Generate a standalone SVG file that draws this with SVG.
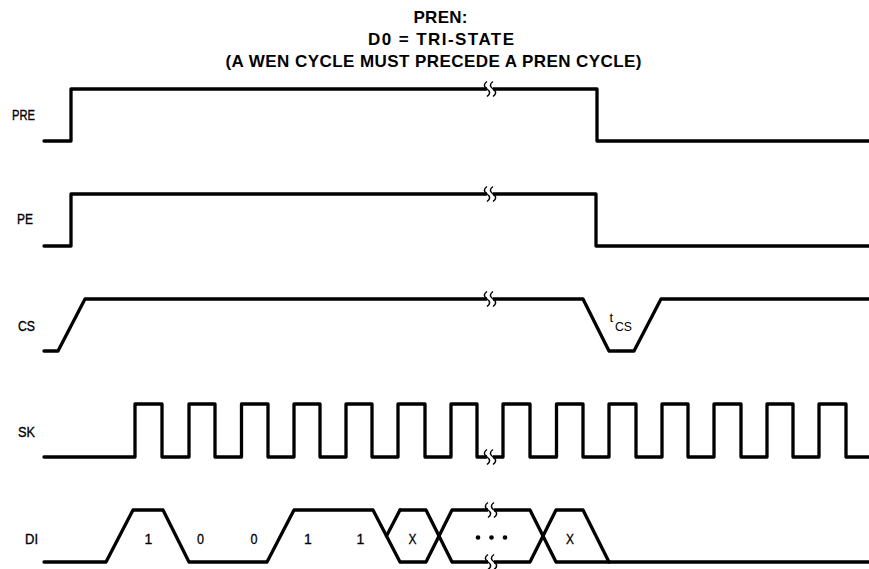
<svg xmlns="http://www.w3.org/2000/svg" width="869" height="569" viewBox="0 0 869 569">
<style>
.w{fill:none;stroke:#000;stroke-width:3.3;stroke-linejoin:round;stroke-linecap:round}
.t{font-family:"Liberation Sans",Arial,sans-serif;font-weight:bold;font-size:17px;fill:#000;text-anchor:middle}
.l{font-family:"Liberation Sans",Arial,sans-serif;font-size:14px;fill:#000;stroke:#000;stroke-width:0.35}
.d{font-family:"Liberation Sans",Arial,sans-serif;font-size:14px;fill:#000;stroke:#000;stroke-width:0.3;text-anchor:middle}
.s{font-family:"Liberation Sans",Arial,sans-serif;font-size:13px;fill:#000}
.bk{fill:none;stroke:#000;stroke-width:1.5}
</style>
<defs>
<g id="brk">
<rect x="-3" y="-3" width="6" height="6" fill="#fff"/>
<path class="bk" d="M-3,-7.5 c-3.5,2.5 -3.5,5 0,7.5 c3.5,2.5 3.5,5 0,7.5"/>
<path class="bk" d="M3,-7.5 c-3.5,2.5 -3.5,5 0,7.5 c3.5,2.5 3.5,5 0,7.5"/>
</g>
</defs>
<rect width="869" height="569" fill="#fff"/>
<g id="title">
<text class="t" x="440.5" y="23" textLength="54">PREN:</text>
<text class="t" x="441" y="45" textLength="146">D0 = TRI-STATE</text>
<text class="t" x="433.5" y="66.5" textLength="416">(A WEN CYCLE MUST PRECEDE A PREN CYCLE)</text>
</g>
<g id="PRE">
<text class="l" x="12" y="119.5" textLength="23" lengthAdjust="spacingAndGlyphs">PRE</text>
<polyline class="w" points="44,141 71,141 71,89 597,89 597,141 869,141"/>
<use href="#brk" x="490" y="89"/>
</g>
<g id="PE">
<text class="l" x="17" y="223.5" textLength="16" lengthAdjust="spacingAndGlyphs">PE</text>
<polyline class="w" points="44,246 71,246 71,194 596,194 596,246 869,246"/>
<use href="#brk" x="490" y="194"/>
</g>
<g id="CS">
<text class="l" x="18" y="330.5" textLength="17" lengthAdjust="spacingAndGlyphs">CS</text>
<polyline class="w" points="44,351 58,351 85,299 583,299 609,351 634,351 661,299 869,299"/>
<use href="#brk" x="490" y="299"/>
<text class="s" x="609.5" y="322">t</text>
<text class="s" x="615" y="331" textLength="17" lengthAdjust="spacingAndGlyphs">CS</text>
</g>
<g id="SK">
<text class="l" x="18" y="436.5" textLength="17" lengthAdjust="spacingAndGlyphs">SK</text>
<polyline class="w" points="44,457 135,457 135,404 162,404 162,457 189,457 189,404 215,404 215,457 241.5,457 241.5,404 268,404 268,457 294,457 294,404 320,404 320,457 346,457 346,404 372,404 372,457 398,457 398,404 425,404 425,457 451,457 451,404 477,404 477,457 503,457 503,404 530,404 530,457 556.5,457 556.5,404 583,404 583,457 609,457 609,404 636,404 636,457 662,457 662,404 688,404 688,457 714,457 714,404 741,404 741,457 767,457 767,404 793,404 793,457 819,457 819,404 846,404 846,457 869,457"/>
<use href="#brk" x="490" y="457"/>
</g>
<g id="DI">
<text class="l" x="25" y="543.5" textLength="13" lengthAdjust="spacingAndGlyphs">DI</text>
<polyline class="w" points="44,562 106,562 133,510 163,510 189,562 267,562 294,510 373,510 400,562 426,562 452,510 530,510 556,562 869,562"/>
<polyline class="w" points="400,510 386.5,536"/>
<polyline class="w" points="400,510 426,510 452,562 530,562 556,510 583,510 609,562"/>
<use href="#brk" x="491" y="510"/>
<use href="#brk" x="491" y="562"/>
<text class="d" x="148.5" y="543.5">1</text>
<text class="d" x="200.5" y="543.5" textLength="7" lengthAdjust="spacingAndGlyphs">0</text>
<text class="d" x="254" y="543.5" textLength="7" lengthAdjust="spacingAndGlyphs">0</text>
<text class="d" x="308" y="543.5">1</text>
<text class="d" x="360.5" y="543.5">1</text>
<text class="d" x="412.5" y="543.5" textLength="8" lengthAdjust="spacingAndGlyphs">X</text>
<text class="d" x="570" y="543.5" textLength="8" lengthAdjust="spacingAndGlyphs">X</text>
<circle cx="478" cy="537.5" r="2.3"/>
<circle cx="491.5" cy="537.5" r="2.3"/>
<circle cx="505" cy="537.5" r="2.3"/>
</g>
</svg>
